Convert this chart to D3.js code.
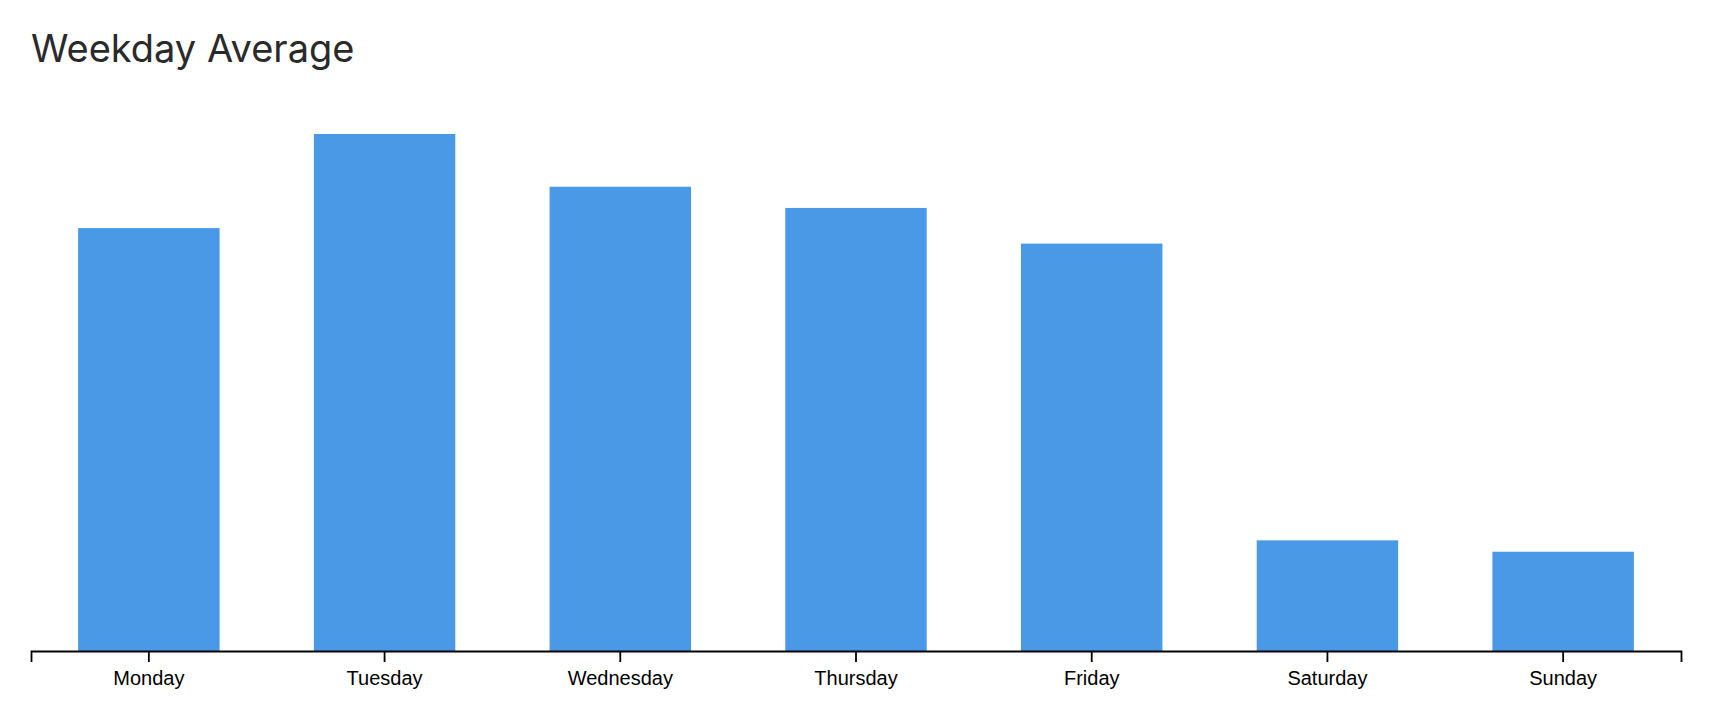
<!DOCTYPE html>
<html>
<head>
<meta charset="utf-8">
<script src="https://cdn.jsdelivr.net/npm/d3@7"></script>
<style>
  html, body { margin: 0; padding: 0; background: #fff; }
  svg { display: block; }
</style>
</head>
<body>
<svg id="chart" width="1716" height="708"></svg>
<script>
const title = "Weekday Average";
const days = ["Monday", "Tuesday", "Wednesday", "Thursday", "Friday", "Saturday", "Sunday"];
const values = [81.8, 100, 89.8, 85.7, 78.8, 21.4, 19.2];

const W = 1716, H = 708;
const margin = {left: 31, right: 35, top: 134, bottom: 57};
const svg = d3.select("#chart");

const x = d3.scaleBand()
  .domain(days)
  .range([margin.left, W - margin.right])
  .paddingInner(0.4)
  .paddingOuter(0.2);

const y = d3.scaleLinear()
  .domain([0, d3.max(values)])
  .range([H - margin.bottom, margin.top]);

svg.append("text")
  .attr("x", 31)
  .attr("y", 62)
  .attr("font-family", "Inter, 'Noto Sans', sans-serif")
  .attr("font-size", 38)
  .attr("fill", "#2a2a2a")
  .text(title);

svg.append("g")
  .selectAll("rect")
  .data(days.map((d, i) => ({day: d, value: values[i]})))
  .join("rect")
  .attr("x", d => x(d.day))
  .attr("y", d => y(d.value))
  .attr("width", x.bandwidth())
  .attr("height", d => y(0) - y(d.value))
  .attr("fill", "#4a99e6");

const axis = svg.append("g")
  .attr("transform", `translate(0,${H - margin.bottom})`)
  .call(d3.axisBottom(x).tickSize(11).tickSizeOuter(11).tickPadding(9));

axis.selectAll("path, line")
  .attr("stroke", "#000")
  .attr("stroke-width", 1.8);
axis.selectAll("text")
  .attr("font-family", "'Liberation Sans', Arial, sans-serif")
  .attr("font-size", 20)
  .attr("fill", "#000");
</script>
</body>
</html>
